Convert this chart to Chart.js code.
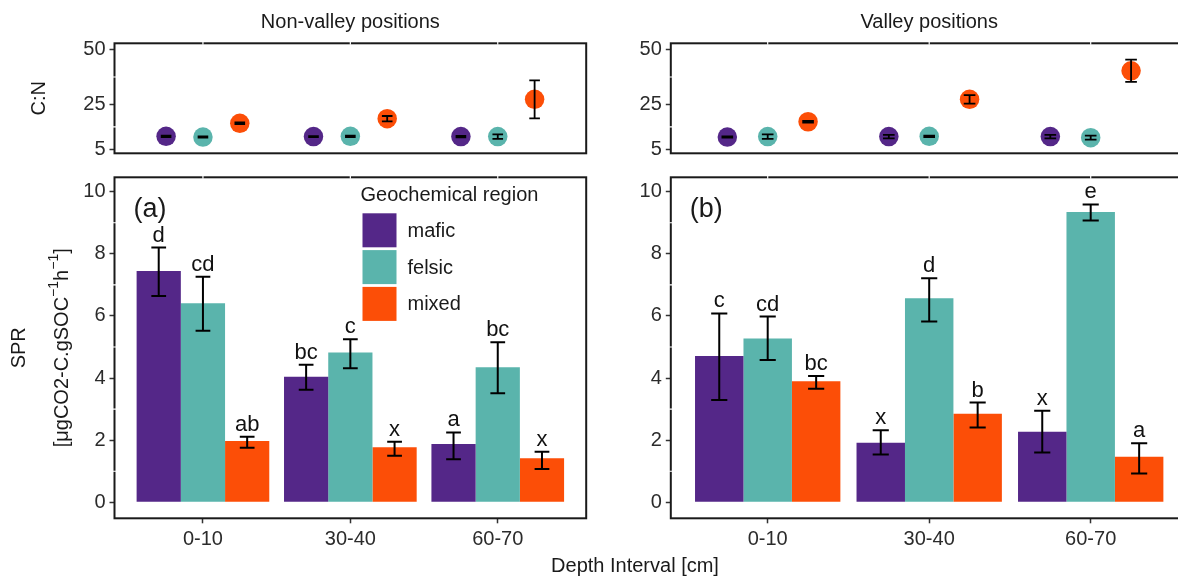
<!DOCTYPE html>
<html>
<head>
<meta charset="utf-8">
<script src="https://cdn.jsdelivr.net/npm/chart.js@4.4.1/dist/chart.umd.min.js"></script>
<style>
  html, body { margin: 0; padding: 0; background: #fff; }
  #fig { position: relative; width: 1178px; height: 579px; overflow: hidden; }
  #fig canvas { position: absolute; left: 0; top: 0; }
</style>
</head>
<body>
<div id="fig">
  <canvas id="cnNonValley" width="1200" height="579"></canvas>
  <canvas id="cnValley" width="1200" height="579"></canvas>
  <canvas id="sprNonValley" width="1200" height="579"></canvas>
  <canvas id="sprValley" width="1200" height="579"></canvas>
</div>
<script>
const depths = ['0-10', '30-40', '60-70'];
const regions = ['mafic', 'felsic', 'mixed'];
const regionColors = ['#542788', '#5ab4ac', '#fc4e07'];

// C:N means and +/- error, one row per region (mafic, felsic, mixed)
const cnNonValleyMean = [[10.7, 10.6, 10.6], [10.4, 10.7, 10.6], [16.6, 18.7, 27.4]];
const cnNonValleyErr = [[0.3, 0.2, 0.3], [0.3, 0.3, 1.0], [0.4, 1.2, 8.6]];
const cnValleyMean = [[10.4, 10.6, 10.6], [10.6, 10.7, 10.1], [17.3, 27.4, 40.3]];
const cnValleyErr = [[0.3, 0.8, 0.8], [1.0, 0.3, 0.9], [0.4, 1.9, 5.0]];
const cnTicks = [5, 25, 50];

// SPR means, error bar ends and significance letters
const sprNonValleyMean = [[7.45, 4.04, 1.88], [6.41, 4.82, 4.35], [1.97, 1.77, 1.42]];
const sprNonValleyLo = [[6.64, 3.62, 1.39], [5.52, 4.32, 3.51], [1.76, 1.50, 1.07]];
const sprNonValleyHi = [[8.20, 4.43, 2.25], [7.26, 5.25, 5.15], [2.11, 1.95, 1.63]];
const sprNonValleyLetters = [['d', 'bc', 'a'], ['cd', 'c', 'bc'], ['ab', 'x', 'x']];
const sprValleyMean = [[4.71, 1.92, 2.27], [5.27, 6.57, 9.35], [3.90, 2.85, 1.47]];
const sprValleyLo = [[3.29, 1.54, 1.60], [4.58, 5.82, 9.07], [3.66, 2.41, 0.93]];
const sprValleyHi = [[6.08, 2.32, 2.95], [5.98, 7.21, 9.59], [4.07, 3.21, 1.90]];
const sprValleyLetters = [['c', 'x', 'x'], ['cd', 'd', 'e'], ['bc', 'b', 'a']];
const sprTicks = [0, 2, 4, 6, 8, 10];

const FONT = "'Liberation Sans', Arial, sans-serif";
const CW = 1200, CH = 579, AXIS_W = 60, AXIS_H = 40;
const cnDodge = [-0.25, 0, 0.25];

Chart.defaults.font.family = FONT;
Chart.defaults.color = '#2b2b2b';
Chart.defaults.animation = false;
Chart.defaults.plugins.legend.display = false;
Chart.defaults.plugins.tooltip.enabled = false;

function pad(left, right, top, bottom, axisH) {
  return { left: left - AXIS_W, right: CW - right, top: top, bottom: CH - bottom - axisH };
}

function yScale(min, max, ticks) {
  return {
    min, max,
    afterBuildTicks: s => { s.ticks = ticks.map(v => ({ value: v })); },
    afterFit: s => { s.width = AXIS_W; },
    border: { display: false },
    grid: { drawOnChartArea: false, tickLength: 5, tickWidth: 1.5, tickColor: '#333' },
    ticks: { font: { size: 20 }, padding: 4, color: '#2b2b2b' }
  };
}

// black error bars (+ letters above them for the SPR panels)
const errorBars = {
  id: 'errorBars',
  afterDatasetsDraw(chart, args, opts) {
    const { ctx } = chart;
    const x = chart.scales.x, y = chart.scales.y;
    const half = opts.cap * (x.getPixelForValue(2) - x.getPixelForValue(1));
    ctx.save();
    ctx.strokeStyle = '#000';
    ctx.lineWidth = opts.width;
    chart.data.datasets.forEach((ds, di) => {
      chart.getDatasetMeta(di).data.forEach((el, i) => {
        const top = y.getPixelForValue(ds.hi[i]), bot = y.getPixelForValue(ds.lo[i]);
        ctx.beginPath();
        ctx.moveTo(el.x, top); ctx.lineTo(el.x, bot);
        ctx.moveTo(el.x - half, top); ctx.lineTo(el.x + half, top);
        ctx.moveTo(el.x - half, bot); ctx.lineTo(el.x + half, bot);
        ctx.stroke();
        if (ds.letters) {
          ctx.fillStyle = '#111';
          ctx.font = '22px ' + FONT;
          ctx.textAlign = 'center';
          ctx.textBaseline = 'alphabetic';
          ctx.fillText(ds.letters[i], el.x, top - 6);
        }
      });
    });
    ctx.restore();
  }
};

// panel border with the little white grid breaks of the ggplot theme
const frame = {
  id: 'frame',
  afterDraw(chart, args, opts) {
    const { ctx, chartArea: a, scales } = chart;
    ctx.save();
    ctx.strokeStyle = '#1a1a1a';
    ctx.lineWidth = 2;
    ctx.strokeRect(a.left, a.top, a.right - a.left, a.bottom - a.top);
    ctx.strokeStyle = '#fff';
    ctx.lineWidth = 1.2;
    ctx.beginPath();
    opts.minor.forEach(v => {
      const py = scales.y.getPixelForValue(v);
      ctx.moveTo(a.left - 1.5, py); ctx.lineTo(a.left + 1.5, py);
    });
    depths.forEach((d, i) => {
      const px = scales.x.getPixelForValue(i + 1);
      ctx.moveTo(px, a.top - 1.5); ctx.lineTo(px, a.top + 1.5);
    });
    ctx.stroke();
    ctx.restore();
  }
};

function drawRotated(ctx, parts, x, y, size) {
  ctx.save();
  ctx.translate(x, y);
  ctx.rotate(-Math.PI / 2);
  ctx.textBaseline = 'middle';
  ctx.textAlign = 'left';
  const fontOf = p => (p.sup ? Math.round(size * 0.7) : size) + 'px ' + FONT;
  let total = 0;
  parts.forEach(p => { ctx.font = fontOf(p); total += ctx.measureText(p.t).width; });
  let cx = -total / 2;
  parts.forEach(p => {
    ctx.font = fontOf(p);
    ctx.fillText(p.t, cx, p.sup ? -size * 0.38 : 0);
    cx += ctx.measureText(p.t).width;
  });
  ctx.restore();
}

// strip titles, panel tags, axis titles, legend
const panelText = {
  id: 'panelText',
  afterDraw(chart, args, o) {
    const { ctx, chartArea: a } = chart;
    ctx.save();
    ctx.fillStyle = '#1a1a1a';
    if (o.strip) {
      ctx.font = '20px ' + FONT;
      ctx.textAlign = 'center';
      ctx.textBaseline = 'middle';
      ctx.fillText(o.strip, (a.left + a.right) / 2, a.top - 21);
    }
    if (o.tag) {
      ctx.font = '27px ' + FONT;
      ctx.textAlign = 'left';
      ctx.textBaseline = 'middle';
      ctx.fillText(o.tag, a.left + 19, a.top + 32);
    }
    (o.yTitle || []).forEach(line => drawRotated(ctx, line.parts, line.x, (a.top + a.bottom) / 2, 20));
    if (o.xTitle) {
      ctx.font = '20px ' + FONT;
      ctx.textAlign = 'center';
      ctx.textBaseline = 'middle';
      ctx.fillText(o.xTitle.text, o.xTitle.x, o.xTitle.y);
    }
    if (o.legend) {
      const lx = a.left + 246, ly = a.top + 18;
      ctx.font = '20px ' + FONT;
      ctx.textAlign = 'left';
      ctx.textBaseline = 'middle';
      ctx.fillText(o.legend, lx, ly);
      chart.data.datasets.forEach((ds, i) => {
        const ky = a.top + 36 + i * 36.8;
        ctx.fillStyle = ds.backgroundColor;
        ctx.fillRect(lx + 2, ky, 34, 34);
        ctx.fillStyle = '#1a1a1a';
        ctx.fillText(ds.label, lx + 47, ky + 18);
      });
    }
    ctx.restore();
  }
};

function cnChart(id, mean, err, left, right, text) {
  const datasets = regions.map((r, k) => ({
    label: r,
    data: mean[k].map((v, i) => ({ x: i + 1 + cnDodge[k], y: v })),
    lo: mean[k].map((v, i) => v - err[k][i]),
    hi: mean[k].map((v, i) => v + err[k][i]),
    backgroundColor: regionColors[k],
    borderWidth: 0,
    pointRadius: 9.75
  }));
  return new Chart(document.getElementById(id), {
    type: 'scatter',
    data: { datasets },
    options: {
      responsive: false,
      devicePixelRatio: 1,
      events: [],
      layout: { padding: pad(left, right, 43.3, 153.3, 0) },
      scales: {
        x: { type: 'linear', display: false, min: 0.4, max: 3.6 },
        y: yScale(3.06, 52.7, cnTicks)
      },
      plugins: {
        errorBars: { cap: 0.036, width: 1.8 },
        frame: { minor: [15, 37.5] },
        panelText: text
      }
    },
    plugins: [errorBars, frame, panelText]
  });
}

function sprChart(id, mean, lo, hi, letters, left, right, text) {
  const datasets = regions.map((r, k) => ({
    label: r,
    data: mean[k].map((v, i) => ({ x: i + 1, y: v })),
    lo: lo[k],
    hi: hi[k],
    letters: letters[k],
    backgroundColor: regionColors[k],
    borderWidth: 0,
    categoryPercentage: 0.9,
    barPercentage: 1.0
  }));
  return new Chart(document.getElementById(id), {
    type: 'bar',
    data: { datasets },
    options: {
      responsive: false,
      devicePixelRatio: 1,
      events: [],
      layout: { padding: pad(left, right, 177.3, 518.3, AXIS_H) },
      scales: {
        x: {
          type: 'linear', min: 0.4, max: 3.6, offset: false,
          afterBuildTicks: s => { s.ticks = depths.map((d, i) => ({ value: i + 1 })); },
          afterFit: s => { s.height = AXIS_H; },
          border: { display: false },
          grid: { offset: false, drawOnChartArea: false, tickLength: 5, tickWidth: 1.5, tickColor: '#333' },
          ticks: { font: { size: 20 }, padding: 4, color: '#2b2b2b', maxRotation: 0, autoSkip: false,
                   callback: v => depths[v - 1] }
        },
        y: yScale(-0.515, 10.464, sprTicks)
      },
      plugins: {
        errorBars: { cap: 0.05, width: 2 },
        frame: { minor: [1, 3, 5, 7, 9] },
        panelText: text
      }
    },
    plugins: [errorBars, frame, panelText]
  });
}

cnChart('cnNonValley', cnNonValleyMean, cnNonValleyErr, 114.5, 586.2, {
  strip: 'Non-valley positions',
  yTitle: [{ x: 39, parts: [{ t: 'C:N' }] }]
});
cnChart('cnValley', cnValleyMean, cnValleyErr, 670.8, 1187.6, {
  strip: 'Valley positions'
});
sprChart('sprNonValley', sprNonValleyMean, sprNonValleyLo, sprNonValleyHi, sprNonValleyLetters, 114.5, 586.2, {
  tag: '(a)',
  legend: 'Geochemical region',
  yTitle: [
    { x: 19, parts: [{ t: 'SPR' }] },
    { x: 62, parts: [{ t: '[\u03bcgCO2-C.gSOC' }, { t: '\u22121', sup: true }, { t: 'h' }, { t: '\u22121', sup: true }, { t: ']' }] }
  ],
  xTitle: { text: 'Depth Interval [cm]', x: 635, y: 566 }
});
sprChart('sprValley', sprValleyMean, sprValleyLo, sprValleyHi, sprValleyLetters, 670.8, 1187.6, {
  tag: '(b)'
});
</script>
</body>
</html>
